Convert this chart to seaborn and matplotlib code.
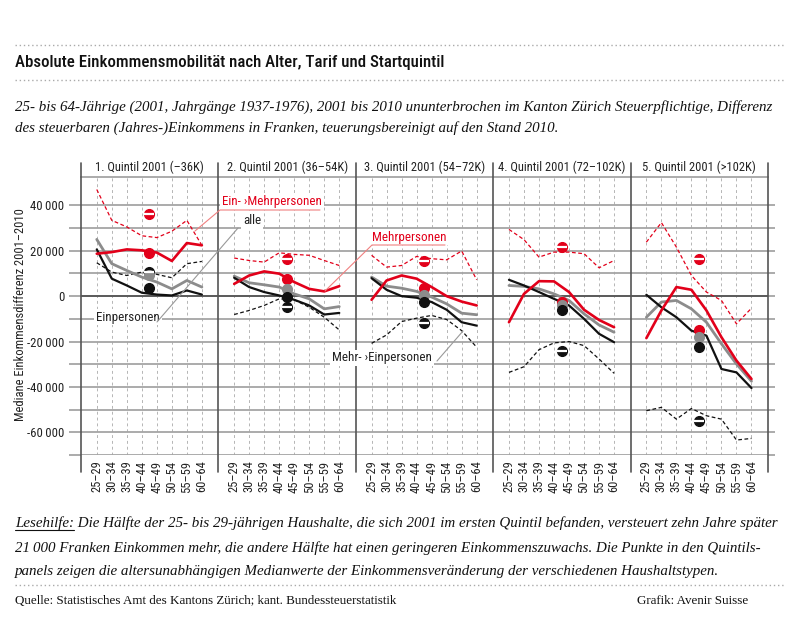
import matplotlib
matplotlib.use("Agg")
import matplotlib.pyplot as plt
from matplotlib.lines import Line2D
from matplotlib.ticker import FuncFormatter
import seaborn as sns
import pandas as pd

# ---- data ----
ages = ['25–29', '30–34', '35–39', '40–44', '45–49', '50–54', '55–59', '60–64']
quintiles = ['1. Quintil 2001 (–36K)', '2. Quintil 2001 (36–54K)', '3. Quintil 2001 (54–72K)',
             '4. Quintil 2001 (72–102K)', '5. Quintil 2001 (>102K)']

# Ein- > Mehrpersonen (red dashed)
ein_mehr = [
    [47000, 33400, 30500, 26600, 25800, 28600, 33400, 22400],
    [16800, 15700, 15000, 19100, 18400, 18000, 15700, 13500],
    [18000, 12800, 13500, 17500, 16500, 16000, 19900, 7200],
    [29400, 24900, 17200, 19400, 19400, 18700, 12500, 15700],
    [23800, 32400, 21600, 9100, 1800, -1900, -12200, -5300],
]
# Mehrpersonen (red solid)
mehr = [
    [18700, 19400, 20600, 20200, 19200, 15500, 23400, 22400],
    [5400, 9100, 10900, 9900, 6200, 3200, 2100, 4400],
    [-1600, 6900, 9100, 7700, 4000, 0, -2400, -4100],
    [-11500, 1000, 6600, 6500, 1800, -6000, -10500, -13700],
    [-18500, -6300, 4000, 2800, -6300, -18100, -28400, -36500],
]
# alle (grey)
alle = [
    [25000, 14300, 11300, 8400, 6200, 3200, 6900, 4000],
    [8800, 5900, 5000, 4000, 1000, -1200, -5600, -4600],
    [8400, 4400, 3500, 2100, -400, -3400, -7500, -8200],
    [4700, 4300, 3200, 1000, -1900, -7800, -12700, -15900],
    [-9300, -2600, -1900, -5600, -11500, -21000, -29900, -37500],
]
# Einpersonen (black solid)
ein = [
    [20600, 7700, 4700, 1500, 700, 300, 2500, 700],
    [8100, 4000, 1800, 300, -1600, -4100, -8100, -7400],
    [7900, 2800, 0, -700, -2600, -6000, -11500, -13000],
    [7200, 4700, 1800, -1200, -4100, -10000, -16600, -20300],
    [600, -4900, -9300, -15200, -17400, -32100, -33600, -40500],
]
# Mehr- > Einpersonen (black dashed)
mehr_ein = [
    [14700, 10600, 9100, 10600, 9600, 8100, 14300, 15300],
    [-8100, -6300, -4100, -1200, -1600, -4900, -9300, -14900],
    [-20800, -17100, -11200, -9700, -8500, -10300, -15200, -22500],
    [-33600, -31100, -23600, -20600, -20000, -21800, -27700, -34000],
    [-50500, -49000, -54200, -49500, -52700, -54200, -63400, -62700],
]
# age-independent medians (dots)
dot_ein_mehr = [36400, 16500, 15300, 21600, 16500]
dot_mehr = [19100, 7700, 3500, -2600, -14700]
dot_alle = [9100, 3200, 600, -3700, -18100]
dot_ein = [3500, -400, -2400, -6300, -22200]
dot_mehr_ein = [10600, -4900, -11800, -24000, -54900]

RED = '#e2001a'
GREY = '#8c8c8c'
BLACK = '#111111'
GRID = '#a5a5a5'

sns.set_style('white')
COND = ['Roboto Condensed', 'DejaVu Sans']
SERIF = ['Liberation Serif', 'DejaVu Serif']
plt.rcParams['font.family'] = COND

W, H = 800, 640


def fx(x):
    return x / W


def fy(y):
    return 1 - y / H


fig = plt.figure(figsize=(8, 6.4), dpi=100)
axes = fig.subplots(1, 5, sharey=True, gridspec_kw=dict(wspace=0))
fig.subplots_adjust(left=fx(81), right=fx(768), top=fy(177), bottom=fy(455))

series = [
    (ein_mehr, RED, 0.9, (0, (3, 2))),
    (mehr_ein, BLACK, 0.9, (0, (3, 2))),
    (alle, GREY, 2.0, '-'),
    (ein, BLACK, 1.6, '-'),
    (mehr, RED, 1.9, '-'),
]

for i, ax in enumerate(axes):
    x = list(range(len(ages)))
    for data, col, lw, ls in series:
        df = pd.DataFrame({'age': x, 'val': data[i]})
        sns.lineplot(data=df, x='age', y='val', ax=ax, color=col, lw=lw,
                     linestyle=ls, zorder=4)
    # dots at the panel centre
    xd = 3.5
    ax.plot(xd, dot_ein_mehr[i], 'o', color=RED, ms=7, zorder=6)
    ax.plot(xd, dot_ein_mehr[i], '_', color='white', ms=7, mew=1.6, zorder=7)
    ax.plot(xd, dot_mehr_ein[i], 'o', color=BLACK, ms=7, zorder=6)
    ax.plot(xd, dot_mehr_ein[i], '_', color='white', ms=7, mew=1.6, zorder=7)
    ax.plot(xd, dot_mehr[i], 'o', color=RED, ms=7, zorder=6)
    ax.plot(xd, dot_alle[i], 'o', color=GREY, ms=7, zorder=6)
    ax.plot(xd, dot_ein[i], 'o', color=BLACK, ms=7, zorder=6)

    ax.set_xlim(-1.05, 8.1)
    ax.set_ylim(-70000, 52500)
    ax.set_yticks(range(-70000, 50000, 10000))
    ax.set_xticks(x)
    ax.set_xticklabels(ages, rotation=90, fontsize=9, color='#222')
    ax.tick_params(axis='x', length=0, pad=4)
    ax.grid(axis='y', color=GRID, lw=1.3, zorder=0)
    ax.grid(axis='x', color='#b5b5b5', lw=0.7, ls=(0, (3, 3)), zorder=0)
    ax.axhline(0, color='#555555', lw=1.3, zorder=1)
    for s in ['left', 'right', 'bottom']:
        ax.spines[s].set_visible(False)
    ax.spines['top'].set_color(GRID)
    ax.spines['top'].set_linewidth(1.3)
    ax.set_xlabel('')
    ax.set_ylabel('')
    ax.set_title(quintiles[i], fontsize=9, pad=4, color='#222')
    if i == 0:
        ax.tick_params(axis='y', length=9, width=1.3, color=GRID, pad=3,
                       labelsize=9.2, labelcolor='#222', left=True)
    else:
        ax.tick_params(axis='y', left=False)
    if i == 4:
        ax.tick_params(axis='y', right=True, length=5, width=1.3, color=GRID)

fmt = FuncFormatter(lambda v, p: '' if int(v) % 20000 else f'{int(v):,}'.replace(',', '\u2009'))
axes[0].yaxis.set_major_formatter(fmt)
fig.text(fx(21), fy(315), 'Mediane Einkommensdifferenz 2001–2010', rotation=90,
         ha='center', va='center', fontsize=9, color='#222')

# panel dividers
for k in range(6):
    xx = 81 + 137.4 * k
    fig.add_artist(Line2D([fx(xx), fx(xx)], [fy(163), fy(472)], color='#555555', lw=1.2))

# series labels
box = dict(boxstyle='square,pad=0.15', fc='white', ec='none')
fig.text(fx(222), fy(202), 'Ein- ›Mehrpersonen', color=RED, fontsize=9.4, va='center', bbox=box, zorder=10)
fig.add_artist(Line2D([fx(195), fx(220), fx(320)], [fy(231), fy(210), fy(210)], color='#f08080', lw=0.8, zorder=11))
fig.text(fx(243), fy(221), 'alle', color='#222', fontsize=9.4, va='center', bbox=box, zorder=10)
fig.text(fx(96), fy(317), 'Einpersonen', color='#222', fontsize=9.4, va='center', bbox=box, zorder=10)
fig.add_artist(Line2D([fx(157), fx(238)], [fy(322), fy(228)], color='#999999', lw=0.8, zorder=11))
fig.text(fx(372), fy(237), 'Mehrpersonen', color=RED, fontsize=9.4, va='center', bbox=box, zorder=10)
fig.add_artist(Line2D([fx(325), fx(372), fx(445)], [fy(291), fy(245), fy(245)], color='#f08080', lw=0.8, zorder=11))
fig.text(fx(332), fy(358), 'Mehr- ›Einpersonen', color='#222', fontsize=9.4, va='center', bbox=box, zorder=10)
fig.add_artist(Line2D([fx(437), fx(463)], [fy(361), fy(331)], color='#999999', lw=0.8, zorder=11))

# header / footer
for yy in [45, 80, 585]:
    fig.add_artist(Line2D([fx(15), fx(785)], [fy(yy), fy(yy)], color='#aaaaaa', lw=1, ls=(0, (1, 2))))

fig.text(fx(15), fy(63), 'Absolute Einkommensmobilität nach Alter, Tarif und Startquintil',
         fontsize=12.2, fontweight='medium', va='center', color='#111')
sub_kw = dict(family=SERIF, style='italic', fontsize=10.8, va='center', color='#111')
fig.text(fx(15), fy(107), '25- bis 64-Jährige (2001, Jahrgänge 1937-1976), 2001 bis 2010 ununterbrochen '
         'im Kanton Zürich Steuerpflichtige, Differenz', **sub_kw)
fig.text(fx(15), fy(128), 'des steuerbaren (Jahres-)Einkommens in Franken, teuerungsbereinigt auf den Stand 2010.',
         **sub_kw)

fig.text(fx(15), fy(523), 'Lesehilfe: Die Hälfte der 25- bis 29-jährigen Haushalte, die sich 2001 im ersten '
         'Quintil befanden, versteuert zehn Jahre später', **sub_kw)
fig.text(fx(15), fy(548), '21\u2009000 Franken Einkommen mehr, die andere Hälfte hat einen geringeren '
         'Einkommenszuwachs. Die Punkte in den Quintils-', **sub_kw)
fig.text(fx(15), fy(572), 'panels zeigen die altersunabhängigen Medianwerte der Einkommensveränderung '
         'der verschiedenen Haushaltstypen.', **sub_kw)
probe = fig.text(fx(15), fy(523), 'Lesehilfe:', alpha=0, **sub_kw)
fig.canvas.draw()
bb = probe.get_window_extent()
fig.add_artist(Line2D([fx(15), fx(15 + bb.width)], [fy(530), fy(530)], color='#111', lw=0.8))

fig.text(fx(15), fy(601), 'Quelle: Statistisches Amt des Kantons Zürich; kant. Bundessteuerstatistik',
         family=SERIF, fontsize=9.4, va='center', color='#111')
fig.text(fx(748), fy(601), 'Grafik: Avenir Suisse', family=SERIF, fontsize=9.4, va='center',
         ha='right', color='#111')

fig.savefig('out.png', dpi=100)
